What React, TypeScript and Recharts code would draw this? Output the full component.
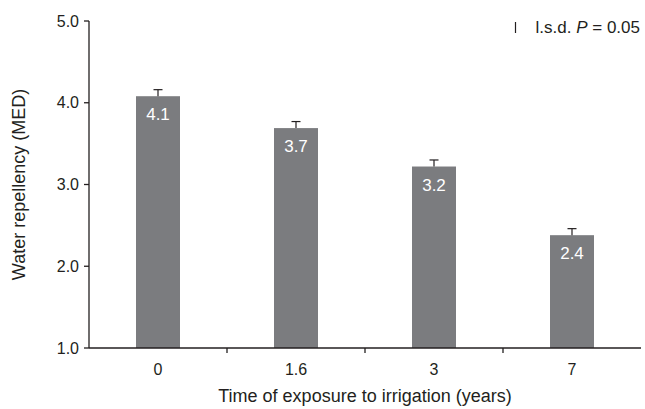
import { Bar, BarChart, LabelList, XAxis, YAxis } from "recharts";

const years = ["0", "1.6", "3", "7"];
const repellency = [4.08, 3.69, 3.22, 2.38];
const lsd = [0.08, 0.08, 0.08, 0.08];
const yTicks = [1, 2, 3, 4, 5];

const data = years.map((year, i) => ({ year, med: repellency[i], lsd: lsd[i] }));

const FONT = "'Liberation Sans', Arial, Helvetica, sans-serif";
const INK = "#231f20";
const BAR = "#7b7c7f";
const Y_MIN = 1;

function BarWithLsd(props: any) {
  const { x, y, width, height, payload } = props;
  const pxPerUnit = height / (payload.med - Y_MIN);
  const top = y - payload.lsd * pxPerUnit;
  const cx = x + width / 2;
  return (
    <g>
      <rect x={x} y={y} width={width} height={height} fill={BAR} />
      <line x1={cx} x2={cx} y1={y} y2={top} stroke={INK} strokeWidth={1.2} />
      <line x1={cx - 4.5} x2={cx + 4.5} y1={top} y2={top} stroke={INK} strokeWidth={1.2} />
    </g>
  );
}

function YearTick(props: any) {
  const { x, y, payload, index, visibleTicksCount } = props;
  const half = payload.offset ?? 0;
  return (
    <g>
      <text x={x} y={y} dy={22} textAnchor="middle" fontSize={16} fill={INK} fontFamily={FONT}>
        {payload.value}
      </text>
      {index < visibleTicksCount - 1 && (
        <line x1={x + half} x2={x + half} y1={y - 5} y2={y} stroke={INK} strokeWidth={1.3} />
      )}
    </g>
  );
}

function YTitle(props: any) {
  const { viewBox } = props;
  const cx = viewBox.x + 19;
  const cy = viewBox.y + viewBox.height / 2;
  return (
    <text
      x={cx}
      y={cy}
      transform={`rotate(-90 ${cx} ${cy})`}
      textAnchor="middle"
      dominantBaseline="central"
      fontSize={18}
      fill={INK}
      fontFamily={FONT}
    >
      Water repellency (MED)
    </text>
  );
}

function XTitle(props: any) {
  const { viewBox } = props;
  return (
    <text
      x={viewBox.x + viewBox.width / 2}
      y={viewBox.y + 54}
      textAnchor="middle"
      fontSize={18}
      fill={INK}
      fontFamily={FONT}
    >
      Time of exposure to irrigation (years)
    </text>
  );
}

export default function App() {
  return (
    <div style={{ position: "absolute", left: 0, top: 0, width: 645, height: 409, background: "#fff" }}>
      <BarChart
        width={645}
        height={409}
        data={data}
        margin={{ top: 21, right: 4, bottom: 0, left: 0 }}
        barCategoryGap={47}
      >
        <XAxis
          dataKey="year"
          height={61}
          stroke={INK}
          strokeWidth={1.3}
          tickLine={false}
          tickSize={5}
          tickMargin={0}
          interval={0}
          tick={<YearTick />}
          label={<XTitle />}
        />
        <YAxis
          width={89}
          domain={[1, 5]}
          ticks={yTicks}
          tickFormatter={(v: number) => v.toFixed(1)}
          stroke={INK}
          strokeWidth={1.3}
          tickSize={5}
          tickMargin={5}
          tick={{ fontSize: 16, fill: INK, fontFamily: FONT }}
          label={<YTitle />}
        />
        <Bar dataKey="med" shape={<BarWithLsd />} isAnimationActive={false}>
          <LabelList
            dataKey="med"
            position="insideTop"
            offset={12}
            formatter={(v: any) => Number(v).toFixed(1)}
            style={{ fill: "#fff", fontSize: 17, fontFamily: FONT }}
          />
        </Bar>
      </BarChart>
      <svg width={645} height={45} style={{ position: "absolute", left: 0, top: 0 }}>
        <line x1={515.5} x2={515.5} y1={22} y2={33} stroke={INK} strokeWidth={1.2} />
        <text x={640} y={33} textAnchor="end" fontSize={17} fill={INK} fontFamily={FONT}>
          l.s.d. <tspan fontStyle="italic">P</tspan> = 0.05
        </text>
      </svg>
    </div>
  );
}
